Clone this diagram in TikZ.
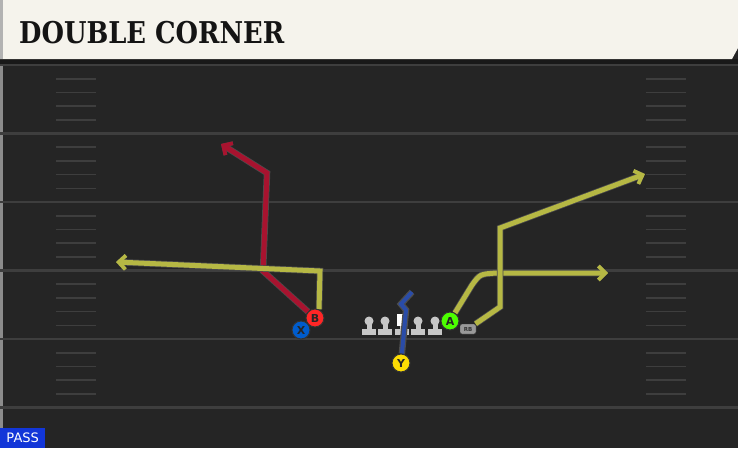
\documentclass[tikz,border=0pt]{standalone}
\usepackage{fontspec}
\usetikzlibrary{arrows,arrows.meta,positioning,shapes,calc}
\newfontfamily\titlefont[FakeStretch=0.86]{DejaVu Serif}
\newfontfamily\labelfont{DejaVu Sans}
\definecolor{fieldbg}{HTML}{252525}
\definecolor{yardline}{HTML}{3E3E3E}
\definecolor{headbg}{HTML}{F5F3EC}
\definecolor{routered}{HTML}{A8132F}
\definecolor{routeyel}{HTML}{B6B844}
\definecolor{routeblue}{HTML}{2A4CA8}
\definecolor{passblue}{HTML}{1236D8}
\pgfdeclarelayer{field}
\pgfdeclarelayer{routes}
\pgfsetlayers{field,routes,main}
\tikzset{player/.style={circle,draw=black!80,line width=1pt,inner sep=0pt,minimum size=18pt,
		font=\labelfont\bfseries\fontsize{11}{11}\selectfont,text=black!85}}
\tikzset{tagbox/.style={draw=black!80,fill=black!40,rounded corners=2pt,inner sep=0pt,minimum width=16pt,
		minimum height=10pt,font=\labelfont\bfseries\fontsize{5.5}{5.5}\selectfont,text=black!80}}
\tikzset{route/.style={line width=5pt,line join=miter,
		preaction={draw=black!70,line width=6.5pt}}}
\tikzset{routetip/.style={-{Straight Barb[length=7pt,width=14pt,line width=3.8pt]}}}
\begin{document}
\begin{tikzpicture}[x=1pt,y=-1pt]
			\useasboundingbox (0,0) rectangle (738,448);
			\begin{pgfonlayer}{field}
			\fill[fieldbg] (0,0) rectangle (738,448);
			\fill[black!45] (0,60) rectangle (3,448);
			% yard lines and hashes
			\foreach \yl in {65,133.5,202,270.5,339,407.5}
				\draw[yardline,line width=2.2pt] (0,\yl) -- (738,\yl);
			\foreach \yl in {65,133.5,202,270.5,339}
				\foreach \k in {1,2,3,4}{
					\draw[yardline,line width=1.6pt] (56,\yl+13.7*\k) -- (96,\yl+13.7*\k);
					\draw[yardline,line width=1.6pt] (646,\yl+13.7*\k) -- (686,\yl+13.7*\k);
				}
			% header
			\fill[black!90] (0,59) rectangle (738,64);
			\fill[headbg] (0,0) -- (738,0) -- (738,48) -- (732,59) -- (0,59) -- cycle;
			\fill[black!30] (0,0) rectangle (3,59);
			% line
			\foreach \xl in {369,385,418,435}{
				\fill[black!22] (\xl-7,329) rectangle (\xl+7,335);
				\fill[black!22] (\xl-2.5,320) rectangle (\xl+2.5,330);
				\fill[black!22] (\xl,321) circle (4.5pt);
			}
			\fill[black!22] (395,329) rectangle (409,335);
			\fill[black!22] (399.5,320) rectangle (404.5,330);
			\fill[white] (397,314) rectangle (407,326);
			\end{pgfonlayer}
			\node[anchor=base west,inner sep=0pt,font=\titlefont\bfseries\fontsize{30}{30}\selectfont,text=black!92]
				(title) at (19,43) {DOUBLE CORNER};
			\node[anchor=south west,fill=passblue,text=white,inner sep=0pt,minimum width=45pt,minimum height=20pt,
				font=\labelfont\fontsize{13}{13}\selectfont] (pass) at (0,448) {PASS};
			% players
			\node[player,fill=blue!55!cyan!80!black] (X) at (301,330) {X};
			\node[player,fill=red!85!white] (B) at (315,318) {B};
			\node[player,fill=green!60!lime] (A) at (450,321) {A};
			\node[player,fill=yellow!80!orange] (Y) at (401,363) {Y};
			\node[tagbox] (RB) at (468,329) {RB};
			% routes
			\begin{pgfonlayer}{routes}
			\draw[route,routetip,routered] (B) -- (263,271) -- (267,173) -- (221,144);
			\draw[route,routetip,routeyel] (B.65) -- (320,271) -- (116,262);
			\draw[route,routetip,routeyel] (A) -- (472,285) .. controls (480,274) .. (497,273) -- (608,273);
			\draw[route,routetip,routeyel] (RB) -- (500,307) -- (500,228) -- (645,174);
			\draw[route,routeblue,line width=4pt] (Y) -- (406,310) -- (401,304) -- (412,292);
			\end{pgfonlayer}
\end{tikzpicture}
\end{document}
